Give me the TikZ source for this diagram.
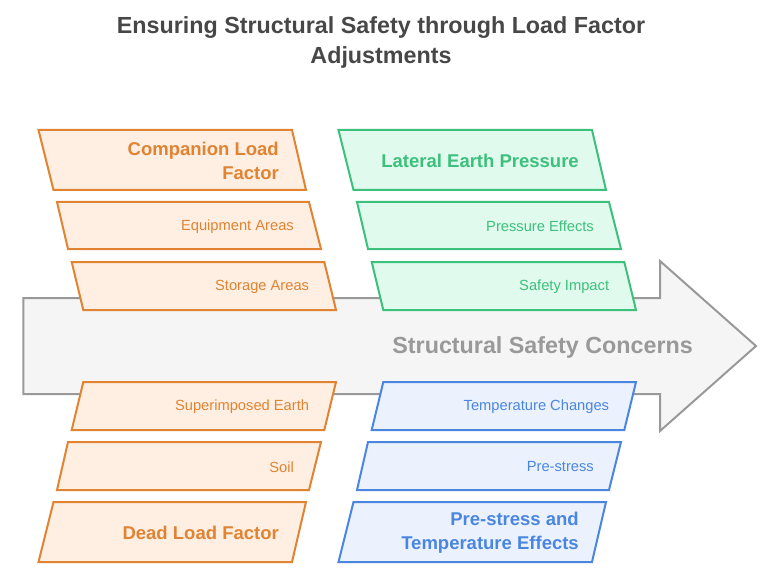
\documentclass[tikz,border=0pt]{standalone}
\usepackage{fontspec}
\setmainfont{Liberation Sans}
\usepackage{xcolor}
\usepackage{tikz}
\usetikzlibrary{positioning}

\definecolor{orangeline}{HTML}{E08332}
\definecolor{orangefill}{HTML}{FEEFE2}
\definecolor{greenline}{HTML}{3DC07C}
\definecolor{greenfill}{HTML}{E0FAEE}
\definecolor{blueline}{HTML}{4A86E0}
\definecolor{bluefill}{HTML}{EBF2FE}
\definecolor{arrowline}{HTML}{999999}
\definecolor{arrowfill}{HTML}{F5F5F5}
\definecolor{titlegray}{HTML}{474747}

\begin{document}
\begin{tikzpicture}[x=1pt, y=-1pt, line join=miter,
  orangebox/.style={draw=orangeline, fill=orangefill, line width=2pt},
  greenbox/.style={draw=greenline, fill=greenfill, line width=2pt},
  bluebox/.style={draw=blueline, fill=bluefill, line width=2pt},
  headtxt/.style={inner sep=0pt, anchor=east, align=right, font=\bfseries\fontsize{18.5}{24}\selectfont},
  itemtxt/.style={inner sep=0pt, anchor=east, font=\fontsize{14.7}{17}\selectfont}]
\useasboundingbox (0,0) rectangle (779,580);

% title
\node[font=\bfseries\fontsize{23.3}{30}\selectfont, text=titlegray, align=center] (title) at (381,42)
  {Ensuring Structural Safety through Load Factor\\Adjustments};

% big arrow
\draw[draw=arrowline, fill=arrowfill, line width=2pt]
  (23.3,298) -- (660,298) -- (660,261) -- (756,346) -- (660,431) -- (660,394) -- (23.3,394) -- cycle;
\node[inner sep=0pt, anchor=east, text=arrowline, font=\bfseries\fontsize{23.3}{24}\selectfont] (concerns) at (693,347) {Structural Safety Concerns};

% left column (orange)
\draw[orangebox] (38.5,130) -- (292,130) -- (306,190) -- (53.5,190) -- cycle;
\draw[orangebox] (57,202) -- (309,202) -- (321,249) -- (68,249) -- cycle;
\draw[orangebox] (71.7,262) -- (324.3,262) -- (336,310) -- (83.3,310) -- cycle;
\draw[orangebox] (83.3,382) -- (336,382) -- (324.3,430) -- (71.7,430) -- cycle;
\draw[orangebox] (68,442) -- (321,442) -- (309,490) -- (57,490) -- cycle;
\draw[orangebox] (53.5,502) -- (306,502) -- (292,562) -- (38.5,562) -- cycle;

\node[headtxt, text=orangeline] (companion) at (279,161) {Companion Load\\Factor};
\node[itemtxt, text=orangeline] (equipment) at (294,226.5) {Equipment Areas};
\node[itemtxt, text=orangeline] (storage) at (309.3,287) {Storage Areas};
\node[itemtxt, text=orangeline] (superimposed) at (309.3,407) {Superimposed Earth};
\node[itemtxt, text=orangeline] (soil) at (294,467) {Soil};
\node[headtxt, text=orangeline] (deadload) at (279,533) {Dead Load Factor};

% right column, top (green)
\draw[greenbox] (338.5,130) -- (592,130) -- (606,190) -- (353.5,190) -- cycle;
\draw[greenbox] (357,202) -- (609,202) -- (621,249) -- (368,249) -- cycle;
\draw[greenbox] (371.7,262) -- (624.3,262) -- (636,310) -- (383.3,310) -- cycle;

\node[headtxt, text=greenline] (lateral) at (579,161) {Lateral Earth Pressure};
\node[itemtxt, text=greenline] (pressure) at (594,226.5) {Pressure Effects};
\node[itemtxt, text=greenline] (safety) at (609.3,287) {Safety Impact};

% right column, bottom (blue)
\draw[bluebox] (383.3,382) -- (636,382) -- (624.3,430) -- (371.7,430) -- cycle;
\draw[bluebox] (368,442) -- (621,442) -- (609,490) -- (357,490) -- cycle;
\draw[bluebox] (353.5,502) -- (606,502) -- (592,562) -- (338.5,562) -- cycle;

\node[itemtxt, text=blueline] (temperature) at (609.3,407) {Temperature Changes};
\node[itemtxt, text=blueline] (prestress) at (594,467) {Pre-stress};
\node[headtxt, text=blueline] (prestresstemp) at (579,533) {Pre-stress and\\Temperature Effects};
\end{tikzpicture}
\end{document}
